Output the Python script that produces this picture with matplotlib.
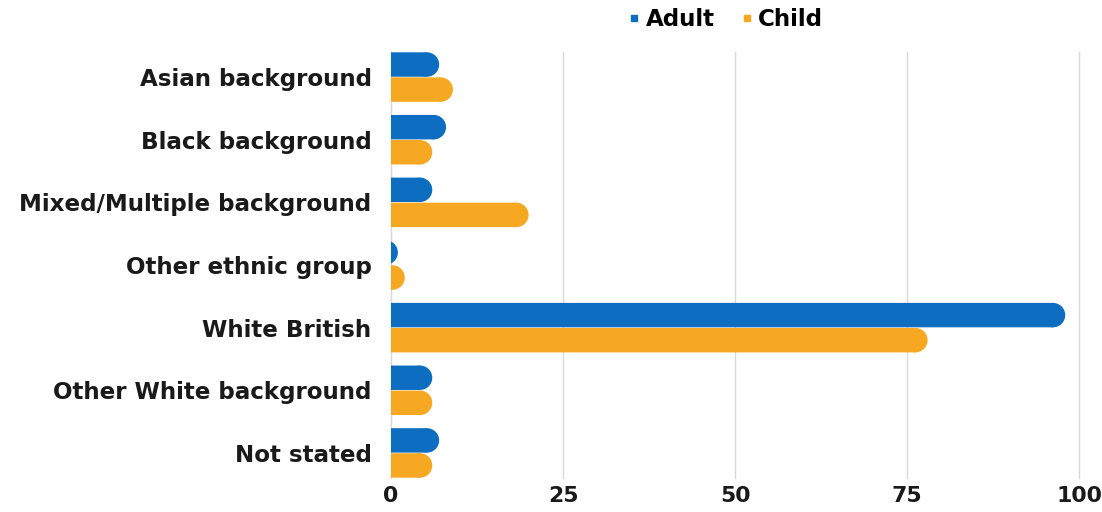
import matplotlib
matplotlib.use("Agg")
import matplotlib.pyplot as plt
import matplotlib.transforms as mtransforms
from matplotlib.patches import Ellipse
from matplotlib.lines import Line2D
import numpy as np

categories = ["Asian background", "Black background", "Mixed/Multiple background",
              "Other ethnic group", "White British", "Other White background", "Not stated"]
adult = [7, 8, 6, 1, 98, 6, 7]
child = [9, 6, 20, 2, 78, 6, 6]
xticks = [0, 25, 50, 75, 100]
series_names = ["Adult", "Child"]
colors = ["#0D6EC1", "#F7A823"]

FAMILY = ['DejaVu Sans']
plt.rcParams['font.family'] = FAMILY

W, H = 1102, 512
fig = plt.figure(figsize=(W / 100, H / 100), dpi=100)
left, right, top, bottom = 391, 1079, 52, 478
ax = fig.add_axes([left / W, 1 - bottom / H, (right - left) / W, (bottom - top) / H])

# fit font size so that the longest label is ~354 px wide (as in reference)
renderer = fig.canvas.get_renderer()
t = fig.text(0, 0, "Mixed/Multiple background", fontsize=15, fontweight='bold')
w15 = t.get_window_extent(renderer).width
t.remove()
FS = 15 * 354.0 / w15

ax.set_xlim(0, 100)
ax.set_ylim(len(categories) - 0.6, -0.4)

h = 0.39
px_x = (right - left) / 100.0
px_y = (bottom - top) / (len(categories) - 0.6 + 0.4)
r_px = h * px_y / 2
r_x = r_px / px_x

y = np.arange(len(categories))
for vals, off, col in [(adult, -0.2, colors[0]), (child, 0.2, colors[1])]:
    widths = [max(v - r_x, 0) for v in vals]
    bars = ax.barh(y + off, widths, height=h, color=col, linewidth=0, zorder=3)
    for b in bars:
        b.set_snap(False)
    for yi, v in zip(y, vals):
        e = Ellipse((v - r_x, yi + off), 2 * r_x, h, facecolor=col, linewidth=0, zorder=3)
        ax.add_patch(e)

ax.set_xticks(xticks)
ax.set_xticklabels([str(t) for t in xticks], fontsize=FS * 0.96, fontweight='bold', color='#1a1a1a')
ax.set_yticks(y)
ax.set_yticklabels(categories, fontsize=FS, fontweight='bold', color='#1a1a1a')
shift = mtransforms.ScaledTranslation(0, 2.5 / 72, fig.dpi_scale_trans)
for lab in ax.get_yticklabels():
    lab.set_transform(lab.get_transform() + shift)
ax.tick_params(axis='both', length=0)
ax.tick_params(axis='y', pad=14)
ax.tick_params(axis='x', pad=6)
ax.grid(axis='x', color='#d9d9d9', linewidth=1, zorder=0)
for gl in ax.get_xgridlines():
    gl.set_clip_on(False)
for s in ['top', 'right', 'bottom']:
    ax.spines[s].set_visible(False)
ax.spines['left'].set_color('#d9d9d9')
ax.spines['left'].set_zorder(1)

handles = [Line2D([], [], marker='s', linestyle='none', markersize=5, color=c) for c in colors]
fig.legend(handles, series_names, loc='center', bbox_to_anchor=(724 / W, 1 - 20 / H),
           ncol=2, frameon=False, prop={'size': FS, 'weight': 'bold'},
           handletextpad=0.1, columnspacing=1.0, handlelength=0.8)

fig.savefig("out.png", dpi=100, facecolor='white')
